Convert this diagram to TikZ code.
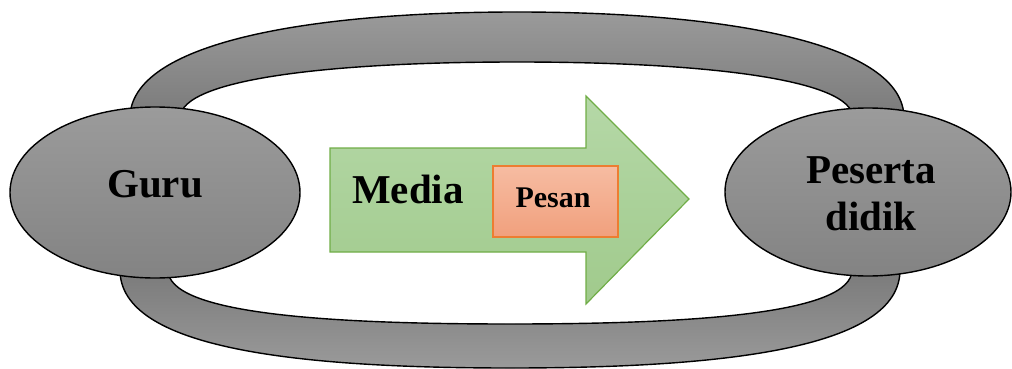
\documentclass[tikz,border=0pt]{standalone}
\usepackage{fontspec}
\setmainfont{Liberation Serif}
\usetikzlibrary{shapes.geometric}
\definecolor{gtop}{HTML}{9B9B9B}
\definecolor{gbot}{HTML}{838383}
\definecolor{bandlight}{HTML}{9A9A9A}
\definecolor{banddark}{HTML}{747474}
\definecolor{greentop}{HTML}{B5D8A7}
\definecolor{greenbot}{HTML}{A0CA8C}
\definecolor{greenline}{HTML}{70AD47}
\definecolor{orangetop}{HTML}{F6BCA2}
\definecolor{orangebot}{HTML}{F1A07D}
\definecolor{orangeline}{HTML}{ED7D31}
\tikzset{
  band/.style={draw=black, line width=1.4pt, line join=round},
  ell/.style={ellipse, draw=black, line width=1.4pt, top color=gtop, bottom color=gbot, inner sep=0pt},
  bigtext/.style={font=\fontsize{41}{47}\selectfont\bfseries, inner sep=0pt, anchor=base},
  smalltext/.style={font=\fontsize{30}{36}\selectfont\bfseries, inner sep=0pt, anchor=base},
  pesanbox/.style={draw=orangeline, line width=1.2pt, top color=orangetop, bottom color=orangebot, inner sep=0pt, minimum width=125pt, minimum height=71pt},
  media/.style={draw=greenline, line width=1.2pt, top color=greentop, bottom color=greenbot, line join=miter}
}
\begin{document}
\begin{tikzpicture}[x=1pt,y=-1pt]
\useasboundingbox (0,0) rectangle (1012,369);
% top band
\path[band, top color=bandlight, bottom color=banddark]
  (130,140) -- (130,118) .. controls (130,43.8) and (304,12) .. (517,12)
  .. controls (730,12) and (904,43.8) .. (904,118) -- (904,140) -- (853,140) -- (853,118)
  .. controls (853,78.8) and (702.4,62) .. (517,62)
  .. controls (331.6,62) and (180,78.8) .. (180,118) -- (180,140) -- cycle;
% bottom band
\path[band, top color=banddark, bottom color=bandlight]
  (120,250) -- (120,270) .. controls (120,348.4) and (295.5,368) .. (510,368)
  .. controls (724.5,368) and (900,348.4) .. (900,270) -- (900,250) -- (852,250) -- (852,270)
  .. controls (852,313.2) and (698.1,324) .. (510,324)
  .. controls (321.9,324) and (168,313.2) .. (168,270) -- (168,250) -- cycle;
% ellipses
\node[ell, minimum width=290pt, minimum height=171pt] (guru) at (155,192.5) {};
\node[ell, minimum width=286pt, minimum height=168pt] (peserta) at (868,192) {};
\node[bigtext] (gurutext) at (155,197) {Guru};
\node[bigtext] (pst1) at (871,183) {Peserta};
\node[bigtext] (pst2) at (871,230) {didik};
% media arrow
\path[media] (330,148) -- (586,148) -- (586,96) -- (689,199) -- (586,304) -- (586,252) -- (330,252) -- cycle;
\node[bigtext] (mediatext) at (408,203) {Media};
% pesan
\node[pesanbox] (pesan) at (555.5,201.5) {};
\node[smalltext] (pesantext) at (553,207.5) {Pesan};
\end{tikzpicture}
\end{document}
